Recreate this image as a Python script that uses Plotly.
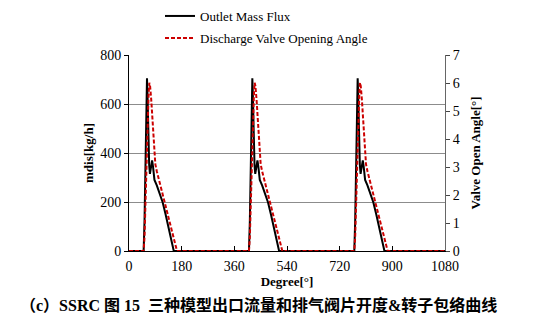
import plotly.graph_objects as go

# Outlet mass flux [kg/h] over three revolutions
flux_deg = [0, 50, 53, 56, 59, 61.5, 63, 66, 69, 71.5, 74, 79, 82, 87, 95, 105, 115, 125, 135, 145, 150, 153,
            360, 410, 413, 416, 419, 421.5, 423, 426, 429, 431.5, 434, 439, 442, 447, 455, 465, 475, 485, 495, 505, 510, 513,
            720, 770, 773, 776, 779, 781.5, 783, 786, 789, 791.5, 794, 799, 802, 807, 815, 825, 835, 845, 855, 865, 870, 873,
            1080]
flux_val = [0, 0, 120, 330, 560, 705, 650, 480, 350, 315, 330, 370, 345, 290, 268, 237, 199, 150, 98, 45, 18, 0,
            0, 0, 120, 330, 560, 705, 650, 480, 350, 315, 330, 370, 345, 290, 268, 237, 199, 150, 98, 45, 18, 0,
            0, 0, 120, 330, 560, 705, 650, 480, 350, 315, 330, 370, 345, 290, 268, 237, 199, 150, 98, 45, 18, 0,
            0]

# Discharge valve opening angle [deg]
valve_deg = [0, 50, 53, 57, 61, 64, 67, 69.5, 72, 76, 80, 84, 87, 90, 95, 105, 115, 125, 135, 145, 155, 160, 164,
             360, 410, 413, 417, 421, 424, 427, 429.5, 432, 436, 440, 444, 447, 450, 455, 465, 475, 485, 495, 505, 515, 520, 524,
             720, 770, 773, 777, 781, 784, 787, 789.5, 792, 796, 800, 804, 807, 810, 815, 825, 835, 845, 855, 865, 875, 880, 884,
             1080]
valve_val = [0, 0, 0.5, 2.0, 3.8, 4.9, 5.6, 6.01, 5.9, 5.4, 4.7, 3.9, 3.4, 3.1, 2.85, 2.45, 2.05, 1.65, 1.25, 0.83, 0.4, 0.18, 0,
             0, 0, 0.5, 2.0, 3.8, 4.9, 5.6, 6.01, 5.9, 5.4, 4.7, 3.9, 3.4, 3.1, 2.85, 2.45, 2.05, 1.65, 1.25, 0.83, 0.4, 0.18, 0,
             0, 0, 0.5, 2.0, 3.8, 4.9, 5.6, 6.01, 5.9, 5.4, 4.7, 3.9, 3.4, 3.1, 2.85, 2.45, 2.05, 1.65, 1.25, 0.83, 0.4, 0.18, 0,
             0]

x_ticks = [0, 180, 360, 540, 720, 900, 1080]
y_ticks = [0, 200, 400, 600, 800]
y2_ticks = [0, 1, 2, 3, 4, 5, 6, 7]

SERIF = "Liberation Serif"
CAPTION_FONT = "Liberation Serif, Noto Sans CJK SC"
TICK_FONT = dict(family=SERIF, size=14, color="black")
TITLE_FONT = dict(family=SERIF, size=13, color="black")

fig = go.Figure()
fig.add_trace(go.Scatter(
    x=flux_deg, y=flux_val, mode="lines", name="Outlet Mass Flux",
    line=dict(color="black", width=2), legend="legend"))
fig.add_trace(go.Scatter(
    x=valve_deg, y=valve_val, mode="lines", name="Discharge Valve Opening Angle",
    line=dict(color="#cc0000", width=2, dash="4px,2px"), yaxis="y2", legend="legend2"))

legend_common = dict(
    bgcolor="rgba(0,0,0,0)", font=dict(family=SERIF, size=13, color="black"),
    xanchor="left", yanchor="middle", itemwidth=30)

fig.update_layout(
    width=551, height=332,
    margin=dict(l=129, r=106, t=55, b=81, autoexpand=False),
    paper_bgcolor="white", plot_bgcolor="white",
    showlegend=True,
    legend=dict(x=(160 - 129) / 316, y=(251 - 16) / 196, **legend_common),
    legend2=dict(x=(160 - 129) / 316, y=(251 - 38) / 196, **legend_common),
    xaxis=dict(
        range=[0, 1080], tickvals=x_ticks, ticktext=[str(v) for v in x_ticks],
        ticks="inside", ticklen=5, tickcolor="black", tickwidth=1, ticklabelstandoff=2,
        showline=True, linecolor="black", linewidth=1, showgrid=False, zeroline=False,
        tickfont=TICK_FONT,
        title=dict(text="<b>Degree[°]</b>", font=TITLE_FONT, standoff=0),
    ),
    yaxis=dict(
        range=[0, 800], tickvals=y_ticks, ticktext=[str(v) for v in y_ticks],
        ticks="outside", ticklen=4, tickcolor="black",
        showline=True, linecolor="black", linewidth=1,
        showgrid=True, gridcolor="#8c8c8c", gridwidth=1, zeroline=False,
        tickfont=TICK_FONT,
        title=dict(text="<b>mdis[kg/h]</b>", font=TITLE_FONT, standoff=3),
    ),
    yaxis2=dict(
        range=[0, 7], tickvals=y2_ticks, ticktext=[str(v) for v in y2_ticks],
        overlaying="y", side="right",
        ticks="outside", ticklen=4, tickcolor="#444444",
        showline=True, linecolor="#666666", linewidth=1, showgrid=False, zeroline=False,
        tickfont=TICK_FONT,
        title=dict(text="<b>Valve Open Angle[°]</b>", font=TITLE_FONT, standoff=12),
    ),
    annotations=[dict(
        text="<b>（c）SSRC 图 15  三种模型出口流量和排气阀片开度&转子包络曲线</b>",
        xref="paper", yref="paper", x=(18 - 129) / 316, y=(251 - 305) / 196,
        xanchor="left", yanchor="middle", showarrow=False,
        font=dict(family=CAPTION_FONT, size=16, color="black"))],
)

fig.write_html("out.html")
